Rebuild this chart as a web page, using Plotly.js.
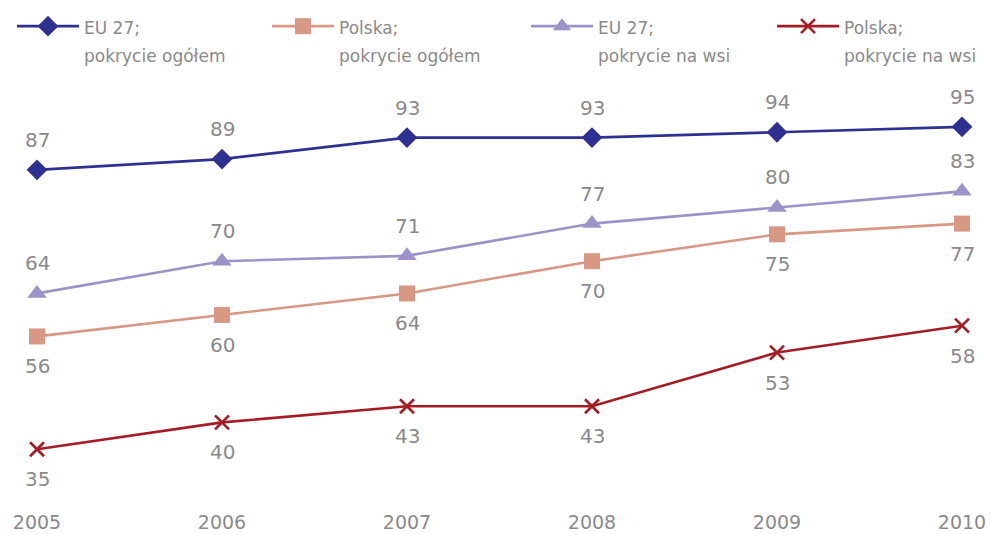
<!DOCTYPE html>
<html>
<head>
<meta charset="utf-8">
<script src="https://cdn.plot.ly/plotly-3.0.1.min.js"></script>
<style>html,body{margin:0;padding:0;background:#fff;}#chart{width:991px;height:534px;}</style>
</head>
<body>
<div id="chart"></div>
<script>
const years = [2005, 2006, 2007, 2008, 2009, 2010];
const eu27Total = [87, 89, 93, 93, 94, 95];
const plTotal = [56, 60, 64, 70, 75, 77];
const eu27Rural = [64, 70, 71, 77, 80, 83];
const plRural = [35, 40, 43, 43, 53, 58];
const seriesNames = [
  'EU 27;<br>pokrycie ogółem',
  'Polska;<br>pokrycie ogółem',
  'EU 27;<br>pokrycie na wsi',
  'Polska;<br>pokrycie na wsi'
];
const tickLabels = ['2005', '2006', '2007', '2008', '2009', '2010'];

const FONT = 'DejaVu Sans, sans-serif';
const GREY = '#8a8a8a';

const series = [
  {y: eu27Total, name: seriesNames[0], color: '#2e3192', symbol: 'diamond', size: 16, label: 'above'},
  {y: plTotal, name: seriesNames[1], color: '#d89883', symbol: 'square', size: 16, label: 'below'},
  {y: eu27Rural, name: seriesNames[2], color: '#9d93c9', symbol: 'triangle-up', size: 17, label: 'above'},
  {y: plRural, name: seriesNames[3], color: '#a61c24', symbol: 'x-thin-open', size: 14, label: 'below'}
];
const legendIds = ['legend', 'legend2', 'legend3', 'legend4'];
const legendLeftPx = [12, 267, 526, 772];

const traces = series.map((s, k) => ({
  type: 'scatter',
  mode: 'lines+markers',
  x: years,
  y: s.y,
  name: '<span style="font-size:17px">' + s.name + '</span>',
  legend: legendIds[k],
  line: {color: s.color, width: 2.6},
  marker: {symbol: s.symbol, size: s.size, color: s.color,
           line: {color: s.color, width: s.symbol === 'x-thin-open' ? 2.6 : 0}},
  cliponaxis: false,
  hoverinfo: 'skip'
}));

const annotations = [];
series.forEach(s => {
  s.y.forEach((v, i) => {
    annotations.push({
      x: years[i], y: v, xref: 'x', yref: 'y',
      text: String(v), showarrow: false,
      yshift: s.label === 'above' ? 30 : -30,
      font: {family: FONT, size: 20, color: GREY}
    });
  });
});

const layout = {
  width: 991, height: 534,
  margin: {l: 37, r: 29, t: 100, b: 31, autoexpand: false},
  paper_bgcolor: '#fff', plot_bgcolor: '#fff',
  font: {family: FONT, color: GREY},
  showlegend: true,
  xaxis: {
    range: [2005, 2010], tickvals: years, ticktext: tickLabels,
    showgrid: false, zeroline: false, showline: false, ticks: '',
    automargin: false, ticklabelstandoff: 6,
    tickfont: {family: FONT, size: 19, color: GREY}, fixedrange: true
  },
  yaxis: {
    range: [25, 100], visible: false, showgrid: false, zeroline: false,
    automargin: false, fixedrange: true
  },
  annotations: annotations
};
legendIds.forEach((id, k) => {
  layout[id] = {
    orientation: 'h', xref: 'container', yref: 'container',
    x: legendLeftPx[k] / 991, xanchor: 'left', y: 1 - 6 / 534, yanchor: 'top',
    valign: 'top',
    font: {family: FONT, size: 21, color: GREY},
    itemwidth: 62, bgcolor: 'rgba(0,0,0,0)'
  };
});

Plotly.newPlot('chart', traces, layout, {displayModeBar: false, staticPlot: true});
</script>
</body>
</html>
